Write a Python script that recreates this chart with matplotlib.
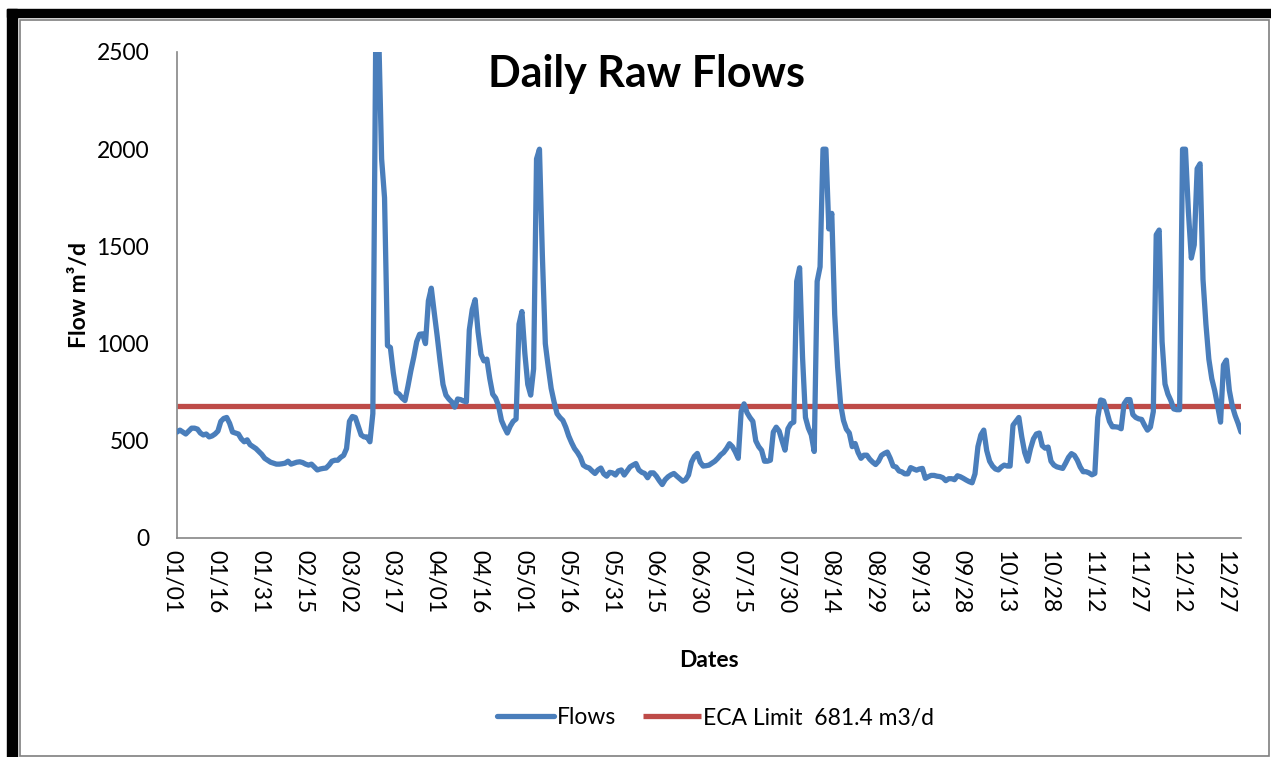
import matplotlib
matplotlib.use("Agg")
import matplotlib.pyplot as plt
import matplotlib.transforms as mtransforms
from matplotlib.patches import Rectangle
import numpy as np
import datetime as dt

# daily raw flows (m3/d), one row per 15 days starting 01/01
flows = [
    545, 555, 545, 535, 550, 565, 565, 560, 540, 530, 535, 520, 525, 535, 550,
    600, 615, 620, 590, 545, 540, 535, 510, 495, 505, 480, 470, 460, 445, 430,
    410, 400, 390, 385, 380, 380, 382, 385, 395, 380, 385, 390, 392, 388, 380,
    375, 380, 365, 350, 355, 358, 360, 375, 395, 400, 400, 415, 425, 460, 600,
    625, 620, 575, 530, 520, 520, 495, 640, 2600, 2600, 1950, 1750, 990, 980, 850,
    750, 740, 720, 707, 780, 860, 930, 1010, 1048, 1050, 1000, 1220, 1285, 1160, 1040,
    910, 790, 735, 715, 700, 673, 715, 712, 705, 700, 1070, 1175, 1226, 1060, 945,
    911, 920, 820, 740, 720, 680, 605, 570, 540, 575, 600, 612, 1100, 1165, 950,
    790, 735, 870, 1950, 2000, 1450, 1000, 880, 770, 700, 640, 620, 605, 570, 525,
    490, 460, 440, 415, 375, 365, 360, 345, 332, 350, 360, 330, 318, 338, 335,
    324, 345, 350, 324, 345, 366, 375, 383, 350, 338, 332, 310, 335, 335, 318,
    295, 275, 300, 315, 325, 332, 318, 305, 292, 300, 324, 390, 420, 435, 390,
    370, 372, 375, 385, 395, 410, 428, 440, 460, 485, 470, 443, 410, 650, 690,
    645, 620, 600, 500, 470, 451, 395, 395, 400, 545, 570, 550, 500, 452, 562,
    588, 596, 1320, 1390, 930, 620, 565, 530, 445, 1320, 1395, 2000, 2000, 1590, 1670,
    1150, 880, 690, 605, 560, 540, 470, 486, 440, 410, 426, 426, 405, 390, 378,
    395, 425, 435, 442, 410, 370, 365, 345, 340, 330, 330, 362, 355, 349, 355,
    358, 307, 315, 322, 322, 318, 316, 310, 295, 305, 305, 300, 320, 315, 307,
    298, 290, 284, 330, 470, 530, 555, 450, 395, 370, 355, 350, 365, 375, 370,
    370, 580, 600, 620, 520, 440, 395, 460, 510, 535, 540, 475, 462, 468, 395,
    375, 366, 362, 358, 385, 415, 434, 425, 400, 365, 341, 341, 335, 325, 332,
    620, 710, 705, 656, 600, 572, 572, 570, 562, 690, 712, 712, 635, 620, 613,
    610, 580, 555, 570, 650, 1560, 1584, 1010, 792, 740, 707, 664, 660, 660, 2000,
    2000, 1680, 1440, 1508, 1900, 1925, 1330, 1100, 920, 820, 758, 680, 596, 890, 915,
    760, 680, 630, 590, 545,
]
eca_limit = 681.4

start = dt.date(2015, 1, 1)
dates = [start + dt.timedelta(days=i) for i in range(len(flows))]
tick_idx = list(range(0, len(flows), 15))
tick_labels = [dates[i].strftime("%m/%d") for i in tick_idx]

plt.rcParams["font.family"] = ["Lato", "DejaVu Sans"]

fig = plt.figure(figsize=(12.71, 7.57), dpi=100)
ax = fig.add_axes([177 / 1271, 1 - 538 / 757, (1241 - 177) / 1271, (538 - 52) / 757])

days = np.arange(len(flows))
ax.plot(days, flows, color="#4A7EBB", lw=3.8, solid_joinstyle="round",
        solid_capstyle="round", label="Flows", zorder=3)
ax.plot(days, [eca_limit] * len(flows), color="#BE4B48", lw=3.8,
        solid_capstyle="butt", label="ECA Limit  681.4 m3/d", zorder=2)

ax.set_xlim(0, len(flows) - 1)
ax.set_ylim(0, 2500)
ax.set_yticks([0, 500, 1000, 1500, 2000, 2500])
ax.set_xticks(tick_idx)
ax.set_xticklabels(tick_labels, rotation=270, ha="center", va="top")
ax.tick_params(axis="both", length=0, labelsize=16.5, colors="black")
ax.tick_params(axis="x", pad=9)
ax.tick_params(axis="y", pad=20)

# nudge date labels a little left, as in the original
shift = mtransforms.ScaledTranslation(-5 / 100, 0, fig.dpi_scale_trans)
for lab in ax.get_xticklabels():
    lab.set_transform(lab.get_transform() + shift)

for side in ["top", "right"]:
    ax.spines[side].set_visible(False)
for side in ["left", "bottom"]:
    ax.spines[side].set_color("#868686")
    ax.spines[side].set_linewidth(1.2)

ax.set_xlabel("Dates", fontsize=16.5, fontweight="bold", labelpad=26)
ax.set_ylabel("Flow m³/d", fontsize=16.5, fontweight="bold", labelpad=5)
ax.text(0.441, 0.955, "Daily Raw Flows", transform=ax.transAxes, fontsize=31,
        fontweight="bold", ha="center", va="center")

fig.legend(loc="center", bbox_to_anchor=(0.563, 1 - 718 / 757), ncol=2,
           frameon=False, fontsize=16.5, handlelength=2.5, handletextpad=0.1,
           columnspacing=1.2)

# chart frame: thick black band on top/left, thin grey border
fig.patches.append(Rectangle((7 / 1271, 0), 10 / 1271, 1 - 9 / 757,
                             transform=fig.transFigure, color="black", zorder=0))
fig.patches.append(Rectangle((7 / 1271, 1 - 17 / 757), 1 - 7 / 1271, 8 / 757,
                             transform=fig.transFigure, color="black", zorder=0))
fig.patches.append(Rectangle((20 / 1271, 1 - 756 / 757), 1249 / 1271, 736 / 757,
                             transform=fig.transFigure, fill=False,
                             edgecolor="#7F7F7F", lw=1.2, zorder=0))

fig.savefig("out.png", dpi=100)
